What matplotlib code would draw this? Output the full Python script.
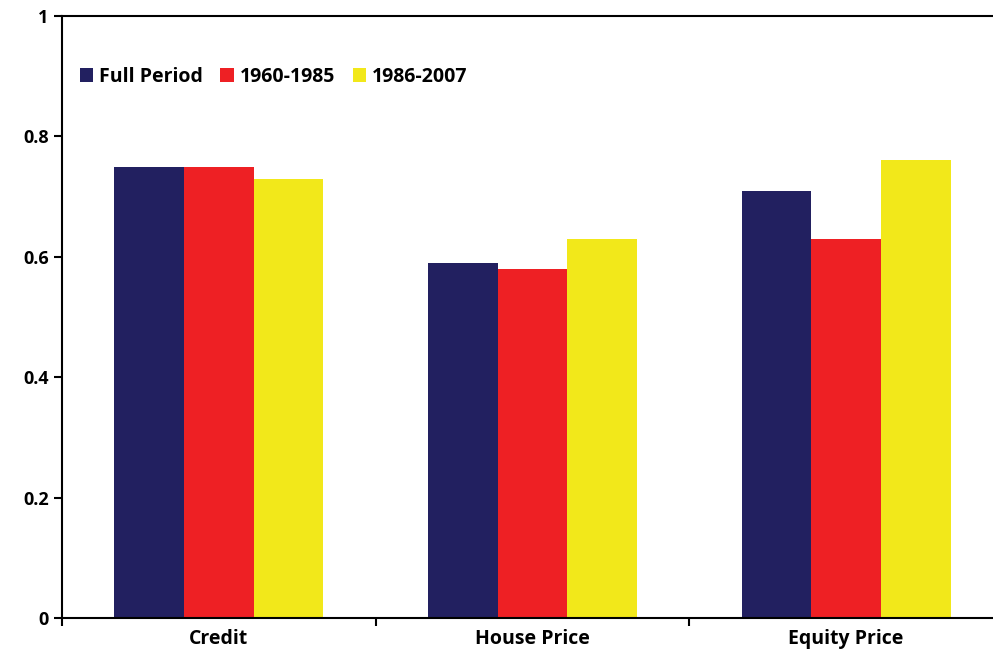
import matplotlib
matplotlib.use("Agg")
import matplotlib.pyplot as plt
import numpy as np

categories = ["Credit", "House Price", "Equity Price"]
series = ["Full Period", "1960-1985", "1986-2007"]
full = [0.75, 0.59, 0.71]
early = [0.75, 0.58, 0.63]
late = [0.73, 0.63, 0.76]
colors = ["#222060", "#ee2024", "#f2e81a"]

plt.rcParams['font.family'] = ['Open Sans', 'DejaVu Sans']
fig = plt.figure(figsize=(9.93, 6.63), dpi=100)
ax = fig.add_axes([62/993, 1-618/663, 941/993, 602/663])
x = np.arange(len(categories))
w = 0.222
for i, (vals, lab, c) in enumerate(zip([full, early, late], series, colors)):
    ax.bar(x + (i-1)*w, vals, w, color=c, label=lab)
ax.set_xlim(-0.5, 2.5)
ax.set_ylim(0, 1)
ax.set_yticks([0, 0.2, 0.4, 0.6, 0.8, 1])
ax.set_yticklabels(["0", "0.2", "0.4", "0.6", "0.8", "1"], fontsize=13, fontweight='bold')
ax.set_xticks(x)
ax.set_xticklabels(categories, fontsize=14, fontweight='bold')
ax.tick_params(axis='x', which='major', length=0, pad=8)
ax.set_xticks([-0.5, 0.5, 1.5, 2.5], minor=True)
ax.tick_params(axis='x', which='minor', length=6, width=1.5, direction='out')
ax.tick_params(axis='y', length=6, width=1.5, direction='out')
for s in ax.spines.values():
    s.set_linewidth(1.5)
ax.legend(loc='upper left', bbox_to_anchor=(0.0, 0.945), ncol=3, frameon=False,
          handlelength=0.7, handleheight=0.7, handletextpad=0.3, columnspacing=0.9,
          prop={'size': 14, 'weight': 'bold'})
fig.savefig("out.png", dpi=100)
